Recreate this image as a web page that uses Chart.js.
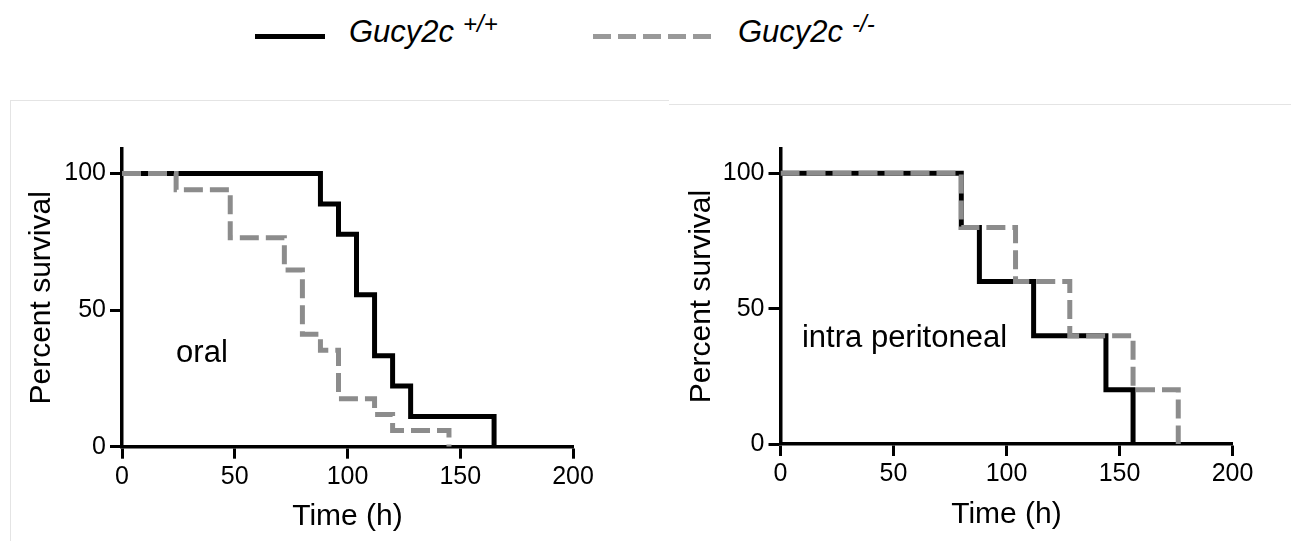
<!DOCTYPE html>
<html>
<head>
<meta charset="utf-8">
<script src="https://cdn.jsdelivr.net/npm/chart.js@4/dist/chart.umd.min.js"></script>
<style>
  html, body { margin: 0; padding: 0; background: #fff; }
  body { width: 1291px; height: 541px; position: relative; overflow: hidden;
         font-family: "Liberation Sans", Arial, sans-serif; color: #000; }
  .abs { position: absolute; }
  .leg-text { font-size: 31px; line-height: 31px; font-style: italic; white-space: nowrap; }
  .leg-sup { font-size: 24px; line-height: 24px; font-style: italic; white-space: nowrap; }
  .panel-edge { background: #e4e4e4; }
  canvas { position: absolute; }
</style>
</head>
<body>
<div class="abs panel-edge" style="left:10px; top:100px; width:659px; height:1px;"></div>
<div class="abs panel-edge" style="left:10px; top:100px; width:1px; height:441px;"></div>
<div class="abs panel-edge" style="left:669px; top:104px; width:622px; height:1px;"></div>

<div class="abs" style="left:255px; top:34px; width:70px; height:5px; background:#000;"></div>
<div class="abs leg-text" style="left:349px; top:16px;">Gucy2c</div>
<div class="abs leg-sup" style="left:463px; top:12px;">+/+</div>
<div class="abs" style="left:593px; top:34px; width:118px; height:5px;
     background: repeating-linear-gradient(to right, #999 0 18px, transparent 18px 25px);"></div>
<div class="abs leg-text" style="left:738px; top:16px;">Gucy2c</div>
<div class="abs leg-sup" style="left:852px; top:12px;">-/-</div>

<canvas id="oral" width="640" height="411" style="left:0px; top:130px;"></canvas>
<canvas id="ip" width="631" height="411" style="left:660px; top:130px;"></canvas>

<script>
// survival curves (time in h, percent surviving)
const oralTimeWT = [0, 88, 96, 104, 112, 120, 128, 165];
const oralSurvWT = [100, 88.9, 77.8, 55.6, 33.3, 22.2, 11.1, 0];
const oralTimeKO = [0, 24, 48, 72, 80, 88, 96, 112, 120, 145];
const oralSurvKO = [100, 94.1, 76.5, 64.7, 41.2, 35.3, 17.6, 11.8, 5.9, 0];

const ipTimeWT = [0, 80, 88, 112, 144, 156];
const ipSurvWT = [100, 80, 60, 40, 20, 0];
const ipTimeKO = [0, 80, 104, 128, 156, 176];
const ipSurvKO = [100, 80, 60, 40, 20, 0];

const xTicks = [0, 50, 100, 150, 200];
const yTicks = [0, 50, 100];
const seriesNames = ["Gucy2c +/+", "Gucy2c -/-"];

const FONT = '"Liberation Sans", Arial, sans-serif';

const toPoints = (times, surv) => times.map((t, i) => ({ x: t, y: surv[i] }));

// writes the route label ("oral" etc.) inside the plot, placed in data units
const panelLabel = {
  id: "panelLabel",
  afterDatasetsDraw(chart, args, opts) {
    const ctx = chart.ctx;
    ctx.save();
    ctx.font = `31px ${FONT}`;
    ctx.fillStyle = "#000";
    ctx.textBaseline = "alphabetic";
    ctx.fillText(opts.text,
      chart.scales.x.getPixelForValue(opts.x),
      chart.scales.y.getPixelForValue(opts.y));
    ctx.restore();
  },
};

function makeSurvivalChart(canvasId, wt, ko, label, box) {
  const ctx = document.getElementById(canvasId).getContext("2d");
  return new Chart(ctx, {
    type: "line",
    data: {
      datasets: [
        {
          label: seriesNames[0],
          data: wt,
          borderColor: "#000",
          borderWidth: 5,
          stepped: "before",
          pointRadius: 0,
          borderJoinStyle: "miter",
          borderCapStyle: "butt",
          order: 1,
        },
        {
          label: seriesNames[1],
          data: ko,
          borderColor: "#8c8c8c",
          borderWidth: 5,
          borderDash: [19, 7],
          stepped: "before",
          pointRadius: 0,
          borderJoinStyle: "miter",
          borderCapStyle: "butt",
          order: 0,
        },
      ],
    },
    options: {
      responsive: false,
      animation: false,
      devicePixelRatio: 1,
      layout: { padding: { left: 0, right: box.right, top: box.top, bottom: 0 } },
      plugins: {
        legend: { display: false },
        tooltip: { enabled: false },
        panelLabel: label,
      },
      scales: {
        x: {
          type: "linear",
          min: 0,
          max: 200,
          afterBuildTicks: (scale) => {
            scale.ticks = xTicks.map((v) => ({ value: v }));
          },
          afterFit: (scale) => {
            scale.height = box.xHeight;
          },
          ticks: {
            color: "#000",
            font: { family: FONT, size: 25 },
            padding: 3,
            maxRotation: 0,
          },
          grid: {
            drawOnChartArea: false,
            drawTicks: true,
            tickLength: 12,
            tickWidth: 3,
            tickColor: "#000",
          },
          border: { display: true, color: "#000", width: 3.5 },
          title: {
            display: true,
            text: "Time (h)",
            color: "#000",
            font: { family: FONT, size: 30 },
            padding: { top: 0, bottom: box.xTitlePad },
          },
        },
        y: {
          type: "linear",
          min: 0,
          max: 109,
          afterBuildTicks: (scale) => {
            scale.ticks = yTicks.map((v) => ({ value: v }));
          },
          afterFit: (scale) => {
            scale.width = box.yWidth;
          },
          ticks: {
            color: "#000",
            font: { family: FONT, size: 25 },
            padding: 4,
          },
          grid: {
            drawOnChartArea: false,
            drawTicks: true,
            tickLength: 12,
            tickWidth: 3,
            tickColor: "#000",
          },
          border: { display: true, color: "#000", width: 3.5 },
          title: {
            display: true,
            text: "Percent survival",
            color: "#000",
            font: { family: FONT, size: 30 },
            padding: { top: 24, bottom: 0 },
          },
        },
      },
    },
    plugins: [panelLabel],
  });
}

makeSurvivalChart(
  "oral",
  toPoints(oralTimeWT, oralSurvWT),
  toPoints(oralTimeKO, oralSurvKO),
  { text: "oral", x: 24, y: 31 },
  { right: 67, top: 18, yWidth: 122, xHeight: 94.3, xTitlePad: 6 }
);

makeSurvivalChart(
  "ip",
  toPoints(ipTimeWT, ipSurvWT),
  toPoints(ipTimeKO, ipSurvKO),
  { text: "intra peritoneal", x: 9.5, y: 36 },
  { right: 58.5, top: 14.6, yWidth: 120.5, xHeight: 97, xTitlePad: 8 }
);
</script>
</body>
</html>
